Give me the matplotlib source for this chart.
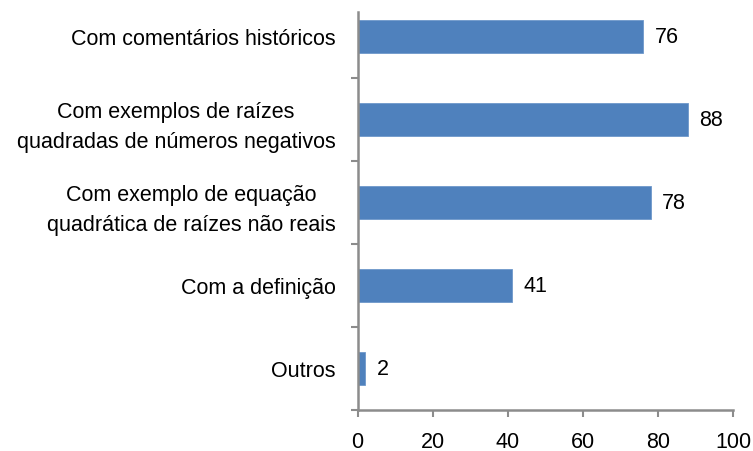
import matplotlib
matplotlib.use("Agg")
import matplotlib.pyplot as plt
import numpy as np

categories = [
    "Com comentários históricos",
    "Com exemplos de raízes\nquadradas de números negativos",
    "Com exemplo de equação\nquadrática de raízes não reais",
    "Com a definição",
    "Outros",
]
values = [76, 88, 78, 41, 2]
xticks = [0, 20, 40, 60, 80, 100]

plt.rcParams['font.family'] = ['Liberation Sans', 'DejaVu Sans']
FS = 15.5

fig = plt.figure(figsize=(7.53, 4.52), dpi=100)
ax = fig.add_axes([0.475, 0.0907, 0.974 - 0.475, 1.009 - 0.0907])

y = np.arange(len(categories))
ax.barh(y, values, height=0.39, color="#4F81BD", edgecolor="#6E98CB", linewidth=0.6)
ax.set_ylim(len(categories) - 0.5, -0.5)
ax.set_xlim(0, 100)
ax.set_xticks(xticks)
ax.set_xticklabels([str(t) for t in xticks], fontsize=FS)

ax.set_yticks(y)
ax.set_yticklabels(categories, fontsize=FS)
for lbl in ax.get_yticklabels():
    lbl.set_multialignment('center')
    lbl.set_linespacing(1.55)
ax.set_yticks(np.arange(len(categories) + 1) - 0.5, minor=True)
ax.tick_params(axis='y', which='major', length=0, pad=16)
ax.tick_params(axis='y', which='minor', length=5, width=1.5, color="#8C8C8C", direction='out')
ax.tick_params(axis='x', which='major', length=5, width=1.5, color="#8C8C8C", direction='out', pad=10)

for s in ['top', 'right']:
    ax.spines[s].set_visible(False)
for s in ['left', 'bottom']:
    ax.spines[s].set_color("#8C8C8C")
    ax.spines[s].set_linewidth(1.8)
ax.spines['left'].set_bounds(len(categories) - 0.5, -0.3)

for yi, v in zip(y, values):
    ax.text(v + 3, yi, str(v), va='center', ha='left', fontsize=FS)

fig.savefig("out.png", dpi=100)
